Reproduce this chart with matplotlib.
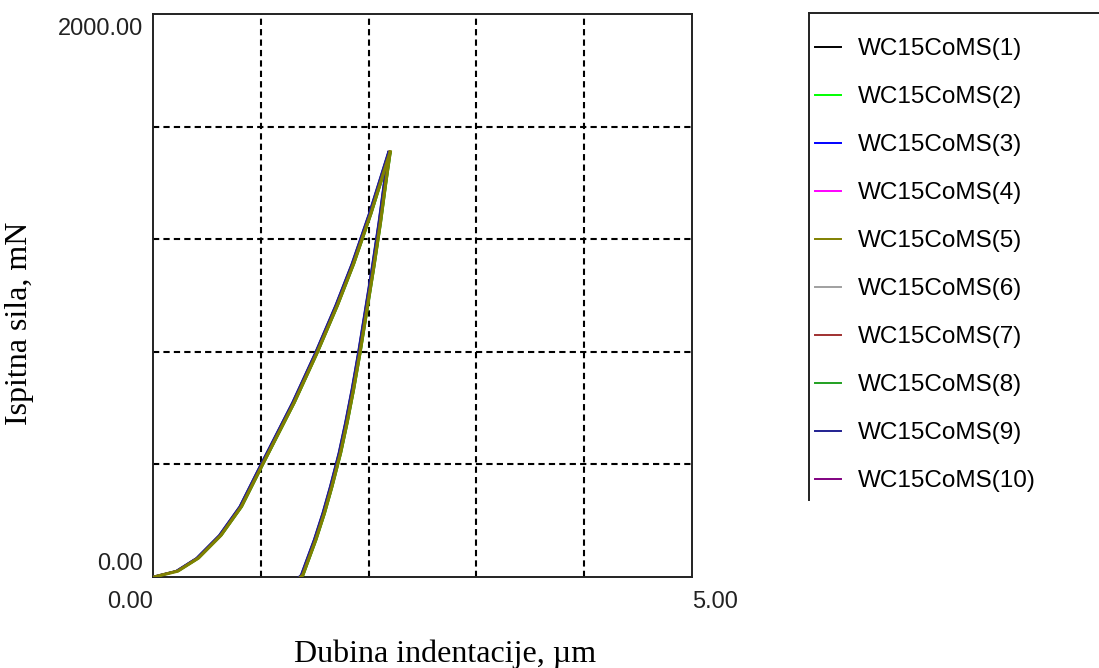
import matplotlib
matplotlib.use('Agg')
import matplotlib.pyplot as plt
from matplotlib.lines import Line2D

# Krive opterecenja / rasterecenja (ocitano sa slike)
load_depth = [0.00, 0.04, 0.22, 0.41, 0.62, 0.81, 1.00, 1.14, 1.30, 1.51, 1.70, 1.85, 2.01, 2.10, 2.19]
load_force = [0, 4, 21, 67, 148, 250, 395, 500, 620, 795, 965, 1112, 1290, 1400, 1510]
unload_depth = [2.19, 2.15, 2.10, 2.04, 1.98, 1.91, 1.85, 1.79, 1.73, 1.65, 1.58, 1.50, 1.42, 1.38, 1.36]
unload_force = [1510, 1403, 1260, 1106, 963, 797, 666, 548, 441, 322, 227, 132, 49, 7, 0]

series = ['WC15CoMS(1)', 'WC15CoMS(2)', 'WC15CoMS(3)', 'WC15CoMS(4)', 'WC15CoMS(5)',
          'WC15CoMS(6)', 'WC15CoMS(7)', 'WC15CoMS(8)', 'WC15CoMS(9)', 'WC15CoMS(10)']
colors = ['#000000', '#00ff00', '#0000ff', '#ff00ff', '#808000',
          '#a0a0a0', '#a03030', '#20a020', '#202090', '#800080']
# mali pomak dubine za svako mjerenje, um
depth_shift = [0.000, 0.014, -0.006, 0.004, 0.010, 0.002, -0.003, 0.016, -0.008, 0.006]

fig = plt.figure(figsize=(10.99, 6.68), dpi=100)
ax = fig.add_axes([153 / 1099, 91 / 668, 539 / 1099, 563 / 668])

handles = []
for name, col, dx in zip(series, colors, depth_shift):
    ld = [d + dx for d in load_depth]
    ud = [d + dx for d in unload_depth]
    z = 4 if col == '#808000' else 3
    lw = 2.3 if col == '#808000' else 1.4
    ax.plot(ld, load_force, color=col, lw=lw, zorder=z)
    ax.plot(ud, unload_force, color=col, lw=lw, zorder=z)
    handles.append(Line2D([0], [0], color=col, lw=1.4, label=name))

ax.set_xlim(0, 5)
ax.set_ylim(0, 2000)
ax.set_xticks([1, 2, 3, 4])
ax.set_yticks([400, 800, 1200, 1600])
ax.tick_params(length=0, labelbottom=False, labelleft=False)
ax.grid(True, color='black', lw=1.5, linestyle=(0, (3, 2)))
for s in ax.spines.values():
    s.set_linewidth(1.4)
    s.set_color('#222222')

tick_font = dict(family='Liberation Sans', fontsize=17, color='#222222')
ax.text(-0.019, 0.993, '2000.00', transform=ax.transAxes, ha='right', va='top', **tick_font)
ax.text(-0.019, 0.012, '0.00', transform=ax.transAxes, ha='right', va='baseline', **tick_font)
ax.text(0.0, -0.055, '0.00', transform=ax.transAxes, ha='right', va='baseline', **tick_font)
ax.text(1.0, -0.055, '5.00', transform=ax.transAxes, ha='left', va='baseline', **tick_font)

fig.text(445 / 1099, 1 - 662 / 668, 'Dubina indentacije, µm', family='Liberation Serif',
         fontsize=23, ha='center', va='baseline')
fig.text(20 / 1099, 1 - 323 / 668, 'Ispitna sila, mN', family='Liberation Serif',
         fontsize=23, ha='center', va='center', rotation=90)

# okvir legende (desna i donja ivica odsjecene)
fig.add_artist(Line2D([809 / 1099, 809 / 1099], [1 - 500 / 668, 1 - 13 / 668],
                      transform=fig.transFigure, color='#222222', lw=1.4))
fig.add_artist(Line2D([809 / 1099, 1.0], [1 - 13 / 668, 1 - 13 / 668],
                      transform=fig.transFigure, color='#222222', lw=1.4))
fig.legend(handles=handles, loc='upper left', bbox_to_anchor=(815 / 1099, 1 - 38 / 668),
           frameon=False, borderpad=0, borderaxespad=0, handlelength=1.06,
           handletextpad=0.72, labelspacing=1.07,
           prop=dict(family='Liberation Sans', size=17.5))

fig.savefig('out.png', dpi=100)
